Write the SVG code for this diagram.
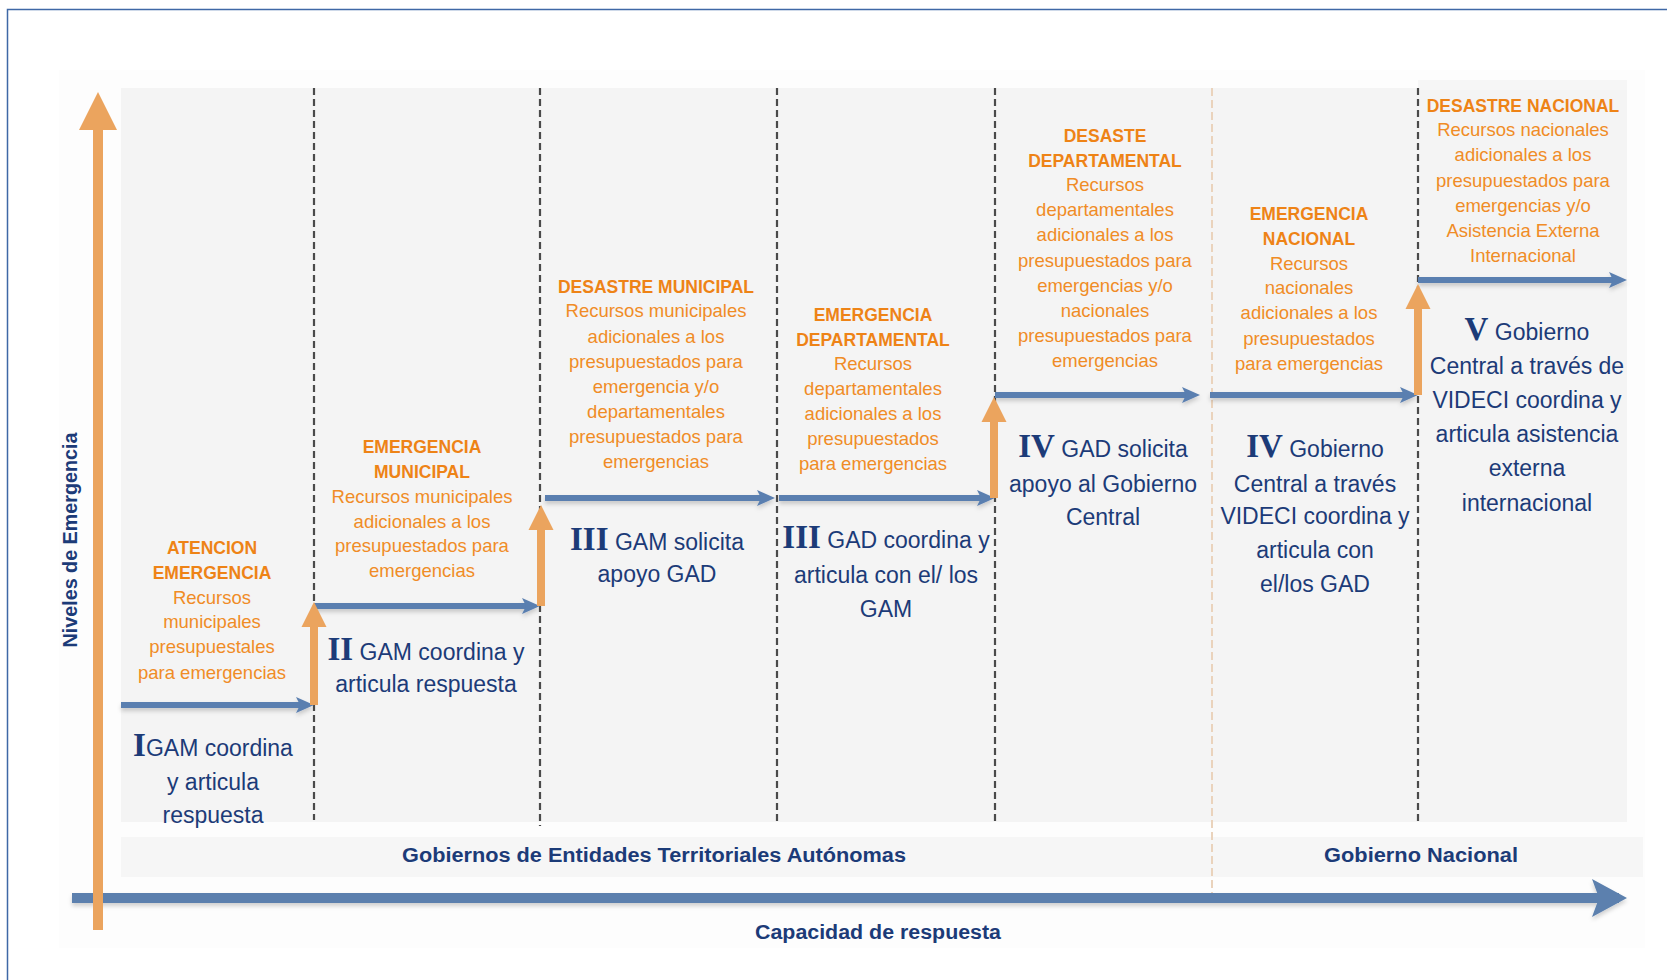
<svg xmlns="http://www.w3.org/2000/svg" width="1667" height="980" viewBox="0 0 1667 980">
<style>
.ot{font-family:"Liberation Sans",Arial,sans-serif;font-weight:bold;font-size:17.5px;fill:#EE8316;text-anchor:middle}
.ob{font-family:"Liberation Sans",Arial,sans-serif;font-size:18.5px;fill:#F08C26;text-anchor:middle}
.bb{font-family:"Liberation Sans",Arial,sans-serif;font-size:23px;fill:#1C3B78;text-anchor:middle}
.rn{font-family:"Liberation Serif","Times New Roman",serif;font-weight:bold;font-size:33px;fill:#1C3B78}
.lab{font-family:"Liberation Sans",Arial,sans-serif;font-weight:bold;font-size:20px;fill:#1C3B78;text-anchor:middle}
.dash{stroke:#4A4A4A;stroke-width:2.2;stroke-dasharray:7 4;fill:none}
.dtan{stroke:#EAD3BC;stroke-width:2;stroke-dasharray:8 4;fill:none}
.step{stroke:#5A7FB0;stroke-width:6;fill:none;marker-end:url(#mb);filter:url(#sh)}
.up{stroke:#EBA45E;stroke-width:8;fill:none;marker-end:url(#mo)}
</style>
<defs>
<filter id="sh" filterUnits="userSpaceOnUse" x="0" y="0" width="1667" height="980">
<feDropShadow dx="0" dy="3" stdDeviation="2" flood-color="#000" flood-opacity="0.18"/>
</filter>
<marker id="mb" viewBox="-8 -10 22 20" refX="0" refY="0" markerWidth="22" markerHeight="20" markerUnits="userSpaceOnUse" orient="auto">
<path d="M-6,-8 L12,0 L-6,8 L-2,0 Z" fill="#5A7FB0"/>
</marker>
<marker id="mo" viewBox="-15 -14 30 28" refX="0" refY="0" markerWidth="30" markerHeight="28" markerUnits="userSpaceOnUse" orient="auto">
<path d="M-13,-12.5 L12,0 L-13,12.5 Z" fill="#EBA45E"/>
</marker>
<marker id="mbig" viewBox="-26 -21 42 42" refX="0" refY="0" markerWidth="42" markerHeight="42" markerUnits="userSpaceOnUse" orient="auto">
<path d="M-24,-19 L14,0 L-24,19 Z" fill="#EBA45E"/>
</marker>
<marker id="max" viewBox="-30 -21 40 42" refX="0" refY="0" markerWidth="40" markerHeight="42" markerUnits="userSpaceOnUse" orient="auto">
<path d="M-27,-19 L8,0 L-27,19 L-20,0 Z" fill="#5B80AE"/>
</marker>
</defs>

<rect x="7.5" y="9.5" width="1700" height="1000" fill="#FFFFFF" stroke="#3F68A6" stroke-width="1.5"/>
<rect x="59" y="70" width="1586" height="878" fill="#FDFDFD"/>
<rect x="121" y="88" width="1506" height="734" fill="#F4F4F4"/>
<rect x="1418" y="80" width="209" height="10" fill="#F6F6F6"/>
<rect x="121" y="837" width="1522" height="40" fill="#F6F6F6"/>

<g id="dividers">
<line class="dash" x1="314" y1="88" x2="314" y2="820"/>
<line class="dash" x1="540" y1="88" x2="540" y2="826"/>
<line class="dash" x1="777" y1="88" x2="777" y2="821"/>
<line class="dash" x1="995" y1="88" x2="995" y2="822"/>
<line class="dtan" x1="1212" y1="88" x2="1212" y2="895"/>
<line class="dash" x1="1418" y1="88" x2="1418" y2="821"/>
</g>

<g id="connectors">
<line x1="72" y1="898" x2="1619" y2="898" stroke="#5B80AE" stroke-width="10" marker-end="url(#max)" filter="url(#sh)"/>
<line x1="98" y1="930" x2="98" y2="106" stroke="#EBA45E" stroke-width="10" marker-end="url(#mbig)"/>
<line class="step" x1="121" y1="705" x2="302" y2="705"/>
<line class="step" x1="314" y1="606" x2="528" y2="606"/>
<line class="step" x1="545" y1="498" x2="763" y2="498"/>
<line class="step" x1="779" y1="498" x2="983" y2="498"/>
<line class="step" x1="995" y1="395" x2="1188" y2="395"/>
<line class="step" x1="1210" y1="395" x2="1406" y2="395"/>
<line class="step" x1="1418" y1="280" x2="1615" y2="280"/>
<line class="up" x1="314" y1="705" x2="314" y2="614"/>
<line class="up" x1="541" y1="606" x2="541" y2="517"/>
<line class="up" x1="994" y1="498" x2="994" y2="409"/>
<line class="up" x1="1418" y1="395" x2="1418" y2="296"/>
</g>

<g id="axis-labels">
<text class="lab" x="878" y="939" textLength="246" lengthAdjust="spacingAndGlyphs">Capacidad de respuesta</text>
<text class="lab" x="654" y="862" textLength="504" lengthAdjust="spacingAndGlyphs">Gobiernos de Entidades Territoriales Autónomas</text>
<text class="lab" x="1421" y="862" textLength="194" lengthAdjust="spacingAndGlyphs">Gobierno Nacional</text>
<text class="lab" transform="translate(77,540) rotate(-90)" x="0" y="0" font-size="19.5" textLength="215" lengthAdjust="spacingAndGlyphs">Niveles de Emergencia</text>
</g>

<g id="level-1">
<text class="ot" x="212" y="554">ATENCION</text>
<text class="ot" x="212" y="579">EMERGENCIA</text>
<text class="ob" x="212" y="604">Recursos</text>
<text class="ob" x="212" y="628">municipales</text>
<text class="ob" x="212" y="653">presupuestales</text>
<text class="ob" x="212" y="679">para emergencias</text>
<text class="bb" x="213" y="756"><tspan class="rn">I</tspan>GAM coordina</text>
<text class="bb" x="213" y="790">y articula</text>
<text class="bb" x="213" y="823">respuesta</text>
</g>

<g id="level-2">
<text class="ot" x="422" y="453">EMERGENCIA</text>
<text class="ot" x="422" y="478">MUNICIPAL</text>
<text class="ob" x="422" y="503">Recursos municipales</text>
<text class="ob" x="422" y="528">adicionales a los</text>
<text class="ob" x="422" y="552">presupuestados para</text>
<text class="ob" x="422" y="577">emergencias</text>
<text class="bb" x="426" y="660"><tspan class="rn">II</tspan> GAM coordina y</text>
<text class="bb" x="426" y="692">articula respuesta</text>
</g>

<g id="level-3a">
<text class="ot" x="656" y="293">DESASTRE MUNICIPAL</text>
<text class="ob" x="656" y="317">Recursos municipales</text>
<text class="ob" x="656" y="343">adicionales a los</text>
<text class="ob" x="656" y="368">presupuestados para</text>
<text class="ob" x="656" y="393">emergencia y/o</text>
<text class="ob" x="656" y="418">departamentales</text>
<text class="ob" x="656" y="443">presupuestados para</text>
<text class="ob" x="656" y="468">emergencias</text>
<text class="bb" x="657" y="550"><tspan class="rn">III</tspan> GAM solicita</text>
<text class="bb" x="657" y="582">apoyo GAD</text>
</g>

<g id="level-3b">
<text class="ot" x="873" y="321">EMERGENCIA</text>
<text class="ot" x="873" y="346">DEPARTAMENTAL</text>
<text class="ob" x="873" y="370">Recursos</text>
<text class="ob" x="873" y="395">departamentales</text>
<text class="ob" x="873" y="420">adicionales a los</text>
<text class="ob" x="873" y="445">presupuestados</text>
<text class="ob" x="873" y="470">para emergencias</text>
<text class="bb" x="886" y="548"><tspan class="rn">III</tspan> GAD coordina y</text>
<text class="bb" x="886" y="583">articula con el/ los</text>
<text class="bb" x="886" y="617">GAM</text>
</g>

<g id="level-4a">
<text class="ot" x="1105" y="142">DESASTE</text>
<text class="ot" x="1105" y="167">DEPARTAMENTAL</text>
<text class="ob" x="1105" y="191">Recursos</text>
<text class="ob" x="1105" y="216">departamentales</text>
<text class="ob" x="1105" y="241">adicionales a los</text>
<text class="ob" x="1105" y="267">presupuestados para</text>
<text class="ob" x="1105" y="292">emergencias y/o</text>
<text class="ob" x="1105" y="317">nacionales</text>
<text class="ob" x="1105" y="342">presupuestados para</text>
<text class="ob" x="1105" y="367">emergencias</text>
<text class="bb" x="1103" y="457"><tspan class="rn">IV</tspan> GAD solicita</text>
<text class="bb" x="1103" y="492">apoyo al Gobierno</text>
<text class="bb" x="1103" y="525">Central</text>
</g>

<g id="level-4b">
<text class="ot" x="1309" y="220">EMERGENCIA</text>
<text class="ot" x="1309" y="245">NACIONAL</text>
<text class="ob" x="1309" y="270">Recursos</text>
<text class="ob" x="1309" y="294">nacionales</text>
<text class="ob" x="1309" y="319">adicionales a los</text>
<text class="ob" x="1309" y="345">presupuestados</text>
<text class="ob" x="1309" y="370">para emergencias</text>
<text class="bb" x="1315" y="457"><tspan class="rn">IV</tspan> Gobierno</text>
<text class="bb" x="1315" y="492">Central a través</text>
<text class="bb" x="1315" y="524">VIDECI coordina y</text>
<text class="bb" x="1315" y="558">articula con</text>
<text class="bb" x="1315" y="592">el/los GAD</text>
</g>

<g id="level-5">
<text class="ot" x="1523" y="112">DESASTRE NACIONAL</text>
<text class="ob" x="1523" y="136">Recursos nacionales</text>
<text class="ob" x="1523" y="161">adicionales a los</text>
<text class="ob" x="1523" y="187">presupuestados para</text>
<text class="ob" x="1523" y="212">emergencias y/o</text>
<text class="ob" x="1523" y="237">Asistencia Externa</text>
<text class="ob" x="1523" y="262">Internacional</text>
<text class="bb" x="1527" y="340"><tspan class="rn">V</tspan> Gobierno</text>
<text class="bb" x="1527" y="374">Central a través de</text>
<text class="bb" x="1527" y="408">VIDECI coordina y</text>
<text class="bb" x="1527" y="442">articula asistencia</text>
<text class="bb" x="1527" y="476">externa</text>
<text class="bb" x="1527" y="511">internacional</text>
</g>
</svg>
